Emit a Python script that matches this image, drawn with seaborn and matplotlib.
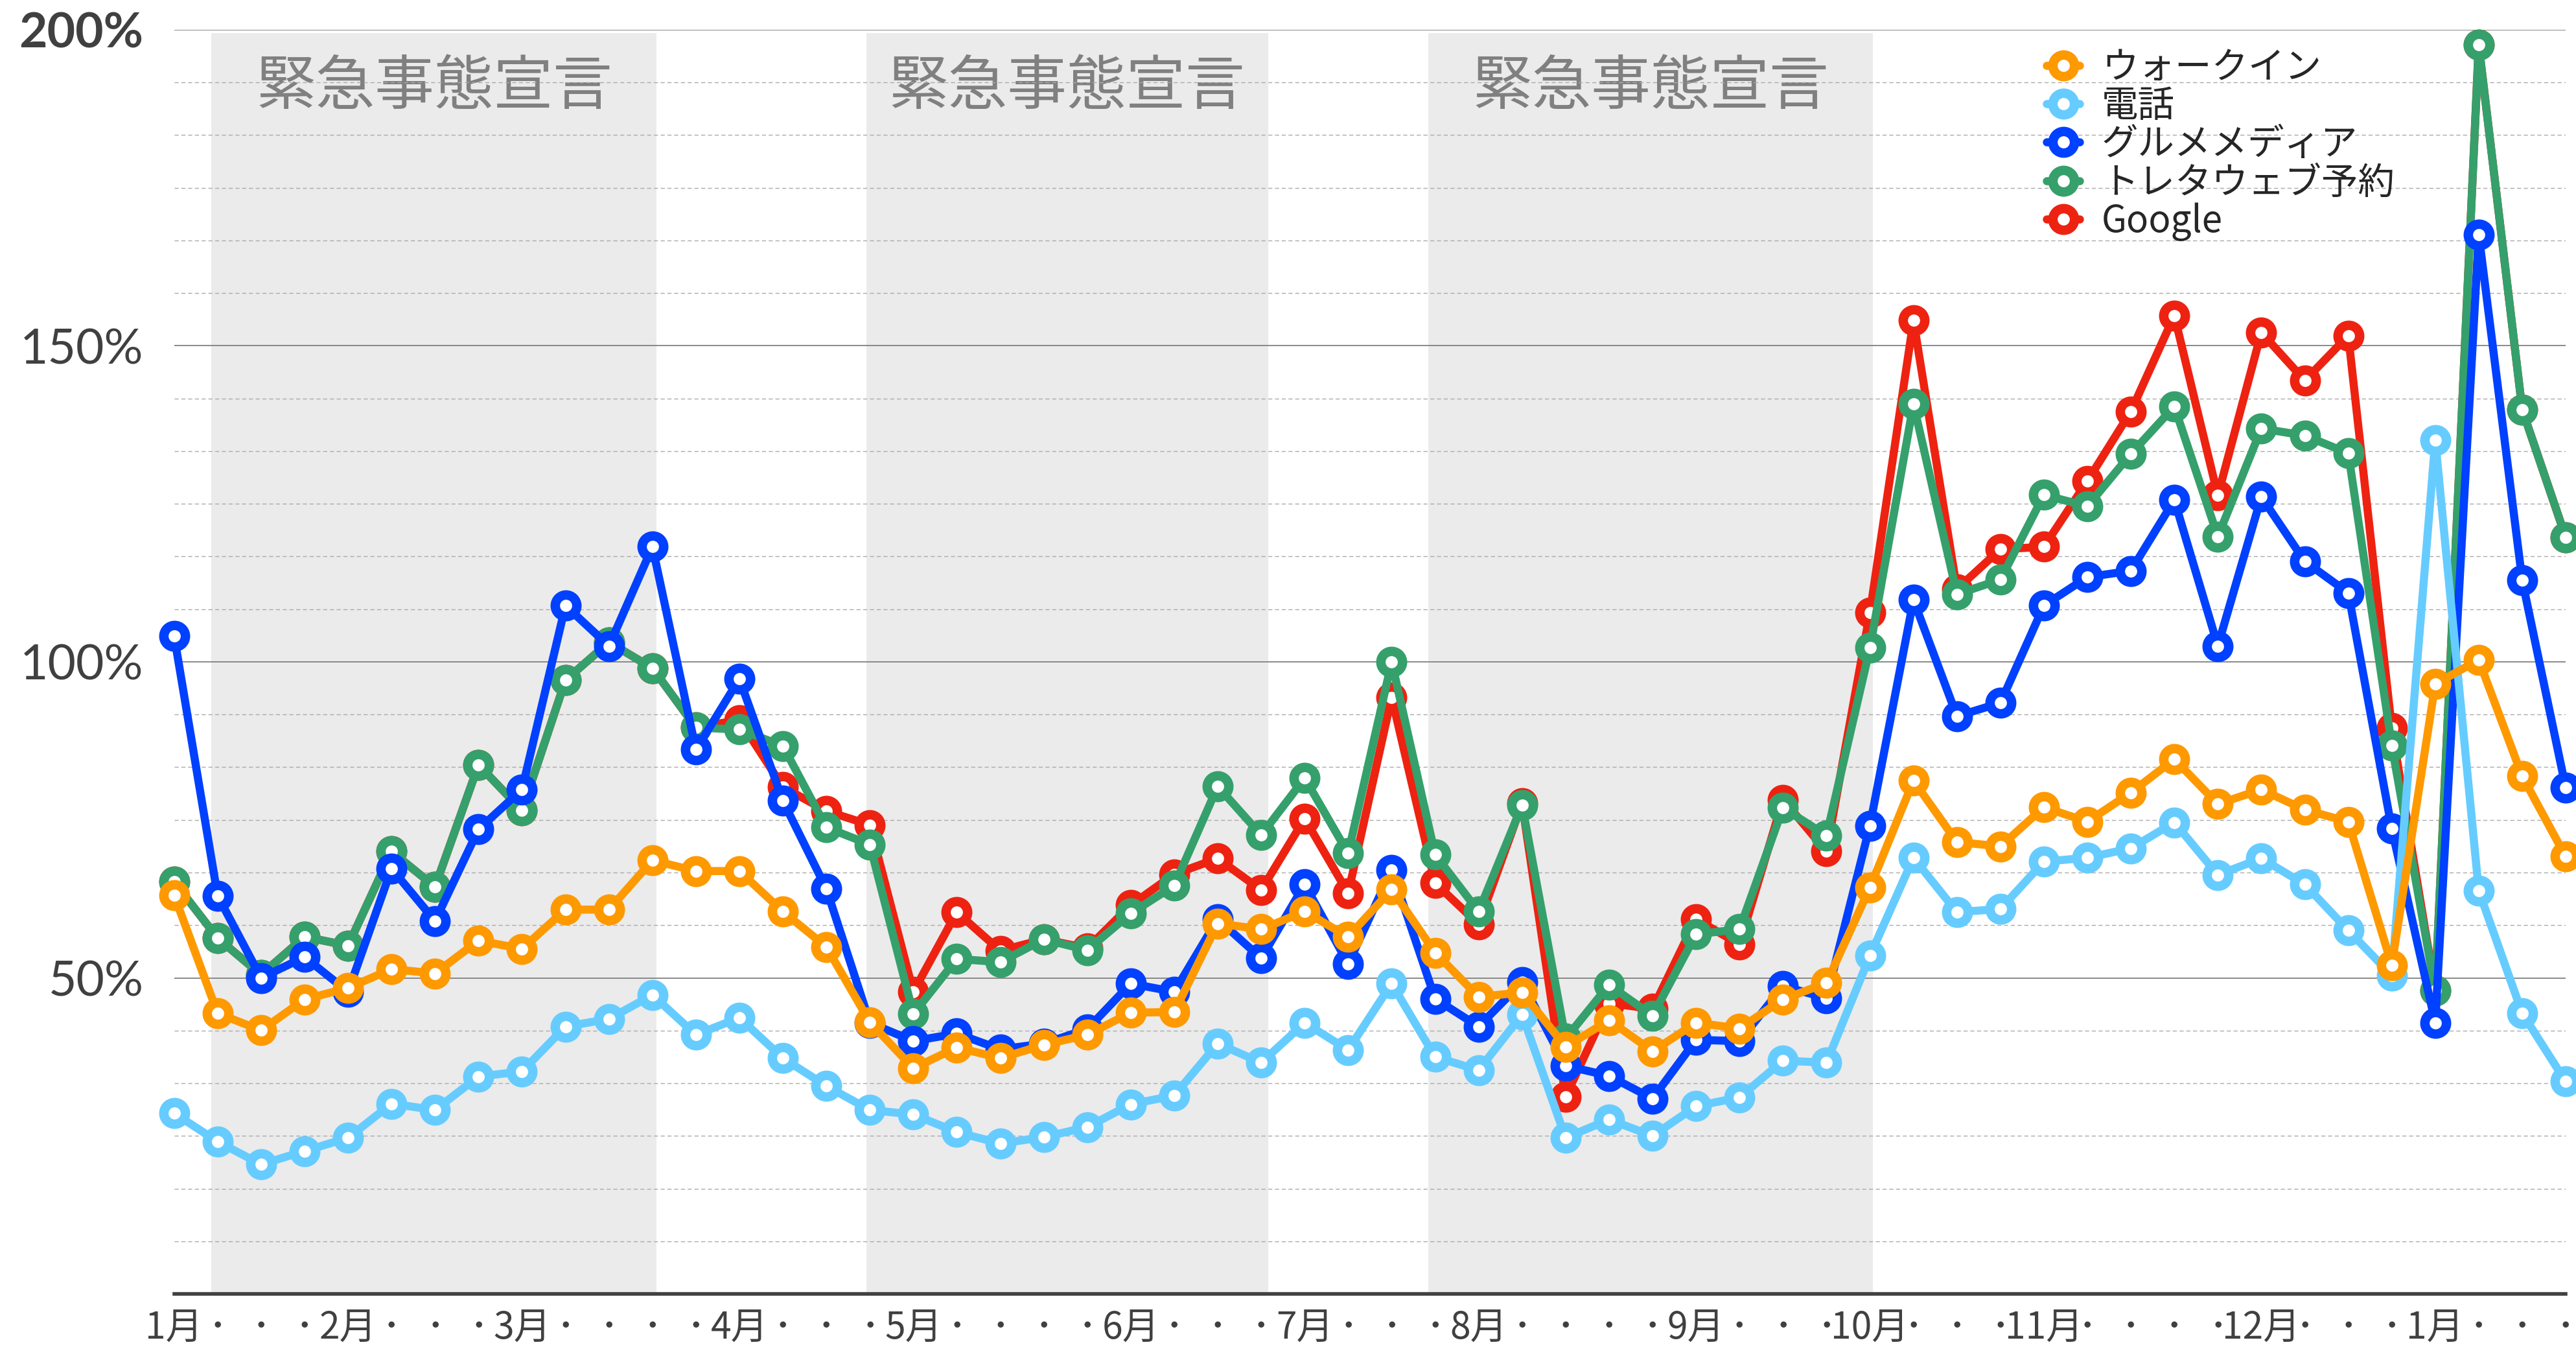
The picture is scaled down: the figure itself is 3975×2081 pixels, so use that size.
import matplotlib
matplotlib.use('Agg')
import matplotlib.pyplot as plt
from matplotlib.ticker import MultipleLocator, FixedLocator
import seaborn as sns
import pandas as pd

# 週ごとのデータ (1月第1週 〜 翌年1月)
weeks = list(range(56))
month_weeks = [0, 4, 8, 13, 17, 22, 26, 30, 35, 39, 43, 48, 52]
month_names = ['1月', '2月', '3月', '4月', '5月', '6月', '7月', '8月', '9月', '10月', '11月', '12月', '1月']

walkin = [63.1, 44.4, 41.7, 46.6, 48.4, 51.4, 50.7, 55.9, 54.6, 60.8, 60.8, 68.6, 66.9, 66.9,
          60.5, 54.9, 43.0, 35.7, 39.0, 37.3, 39.4, 41.0, 44.5, 44.6, 58.6, 57.7, 60.5, 56.5,
          64.0, 54.0, 47.0, 47.7, 39.1, 43.3, 38.4, 42.9, 42.0, 46.6, 49.2, 64.3, 81.2, 71.5,
          70.8, 77.0, 74.7, 79.3, 84.6, 77.5, 79.8, 76.6, 74.7, 52.0, 96.5, 100.3, 81.9, 69.2]
phone = [28.6, 24.1, 20.5, 22.6, 24.7, 30.1, 29.1, 34.4, 35.2, 42.3, 43.5, 47.3, 41.0, 43.7,
         37.3, 32.9, 29.1, 28.4, 25.6, 23.8, 24.8, 26.4, 30.0, 31.4, 39.6, 36.6, 42.9, 38.6,
         49.1, 37.5, 35.4, 44.2, 24.7, 27.6, 25.0, 29.7, 31.1, 36.9, 36.6, 53.5, 69.0, 60.4,
         60.9, 68.4, 69.0, 70.5, 74.6, 66.3, 68.9, 64.8, 57.5, 50.4, 135.1, 63.8, 44.4, 33.6]
gourmet = [104.1, 63.0, 50.0, 53.3, 47.8, 67.3, 59.0, 73.5, 79.8, 108.9, 102.5, 118.2, 86.1, 97.3,
           78.0, 64.1, 42.9, 40.0, 41.2, 38.7, 39.6, 41.9, 49.1, 47.8, 59.3, 53.1, 64.8, 52.2,
           67.1, 46.7, 42.3, 49.3, 36.1, 34.5, 30.9, 40.2, 40.0, 48.7, 46.8, 74.1, 109.8, 91.4,
           93.5, 108.9, 113.4, 114.4, 125.6, 102.5, 126.1, 115.9, 110.9, 73.6, 42.9, 167.6, 112.9, 80.1]
toreta = [65.2, 56.3, 50.5, 56.5, 55.1, 70.0, 64.4, 83.7, 76.5, 97.1, 103.1, 99.0, 89.6, 89.3,
          86.7, 73.8, 71.1, 44.3, 53.0, 52.5, 56.1, 54.4, 60.2, 64.6, 80.3, 72.6, 81.6, 69.7,
          100.0, 69.5, 60.5, 77.3, 40.4, 48.9, 44.0, 56.9, 57.7, 76.9, 72.5, 102.2, 140.8, 110.7,
          113.0, 126.4, 124.6, 132.9, 140.4, 119.8, 136.9, 135.8, 133.0, 86.8, 48.0, 197.6, 139.9, 119.7]
google = [65.2, 56.3, 50.5, 56.5, 55.1, 70.0, 64.4, 83.7, 76.5, 97.1, 103.1, 99.0, 89.6, 90.8,
          80.2, 76.4, 74.2, 47.8, 60.4, 54.3, 56.1, 54.7, 61.5, 66.4, 68.9, 63.9, 75.2, 63.4,
          94.4, 65.0, 58.5, 77.6, 31.2, 46.0, 45.1, 59.3, 55.3, 78.2, 70.0, 107.8, 154.0, 111.5,
          117.8, 118.2, 128.6, 139.6, 154.8, 126.3, 152.1, 144.5, 151.6, 89.5, 48.0, 197.6, 139.9, 119.7]

# 緊急事態宣言の期間 (週単位)
emergency_start = [0.86, 15.92, 28.84]
emergency_end = [11.10, 25.16, 39.07]

series_names = ['ウォークイン', '電話', 'グルメメディア', 'トレタウェブ予約', 'Google']
series_values = [walkin, phone, gourmet, toreta, google]
colors = ['#FF9900', '#66CCFF', '#0040FF', '#35A06B', '#EE2211']

df = pd.DataFrame({'week': weeks})
for name, vals in zip(series_names, series_values):
    df[name] = vals

# 月の週以外は半角の中黒
week_labels = ['･'] * len(weeks)
for w, m in zip(month_weeks, month_names):
    week_labels[w] = m

sns.set_theme(style='white')
plt.rcParams['font.family'] = ['Noto Sans CJK JP', 'DejaVu Sans']

fig = plt.figure(figsize=(39.75, 20.81), dpi=100)
ax = fig.add_axes([0.0676, 0.0408, 0.996 - 0.0676, 0.978 - 0.0408])

# 背景の帯
for s, e in zip(emergency_start, emergency_end):
    ax.axvspan(s, e, ymin=0, ymax=0.9975, color='#EBEBEB', lw=0, zorder=0.1)
    ax.text((s + e) / 2, 190.8, '緊急事態宣言', ha='center', va='center',
            fontsize=66, color='#808080', zorder=0.3)

# 描画順: Google が一番下、ウォークインが一番上
for i in [4, 3, 2, 1, 0]:
    sns.lineplot(data=df, x='week', y=series_names[i], ax=ax, color=colors[i],
                 label=series_names[i], lw=9, marker='o', markersize=24,
                 markerfacecolor='white', markeredgecolor=colors[i],
                 markeredgewidth=10.5, clip_on=False, zorder=3 + (4 - i))

ax.set_xlim(0, 55)
ax.set_ylim(0, 200)
ax.set_xlabel('')
ax.set_ylabel('')

ax.yaxis.set_major_locator(FixedLocator([0, 50, 100, 150, 200]))
ax.yaxis.set_minor_locator(MultipleLocator(50 / 6))
ax.set_yticklabels(['', '50%', '100%', '150%', '200%'])
for lab in ax.get_yticklabels():
    lab.set_family(['Lato', 'DejaVu Sans'])
    lab.set_fontsize(54)
    lab.set_color('#404040')
ax.get_yticklabels()[-1].set_fontweight('bold')

ax.set_xticks(weeks)
ax.set_xticklabels(week_labels, fontsize=41, color='#404040')

ax.tick_params(axis='both', which='both', length=0)
ax.tick_params(axis='y', pad=34)
ax.tick_params(axis='x', pad=17)

ax.set_axisbelow(True)
ax.grid(axis='y', which='major', color='#808080', lw=1.3, zorder=0.5)
ax.grid(axis='y', which='minor', color='#AAAAAA', lw=1.0, ls=(0, (4.5, 3)), zorder=0.5)
ax.grid(axis='x', visible=False)

for side in ['top', 'left', 'right']:
    ax.spines[side].set_visible(False)
ax.spines['bottom'].set_color('#404040')
ax.spines['bottom'].set_linewidth(4)
ax.spines['bottom'].set_zorder(2)

handles, labels = ax.get_legend_handles_labels()
order = [labels.index(n) for n in series_names]
ax.legend([handles[k] for k in order], [labels[k] for k in order],
          loc='upper left', bbox_to_anchor=(0.783, 0.985), frameon=False,
          fontsize=40.7, handlelength=0.9, handletextpad=0.6, labelspacing=0.015,
          borderpad=0, borderaxespad=0)

fig.savefig('out.png', dpi=100)
